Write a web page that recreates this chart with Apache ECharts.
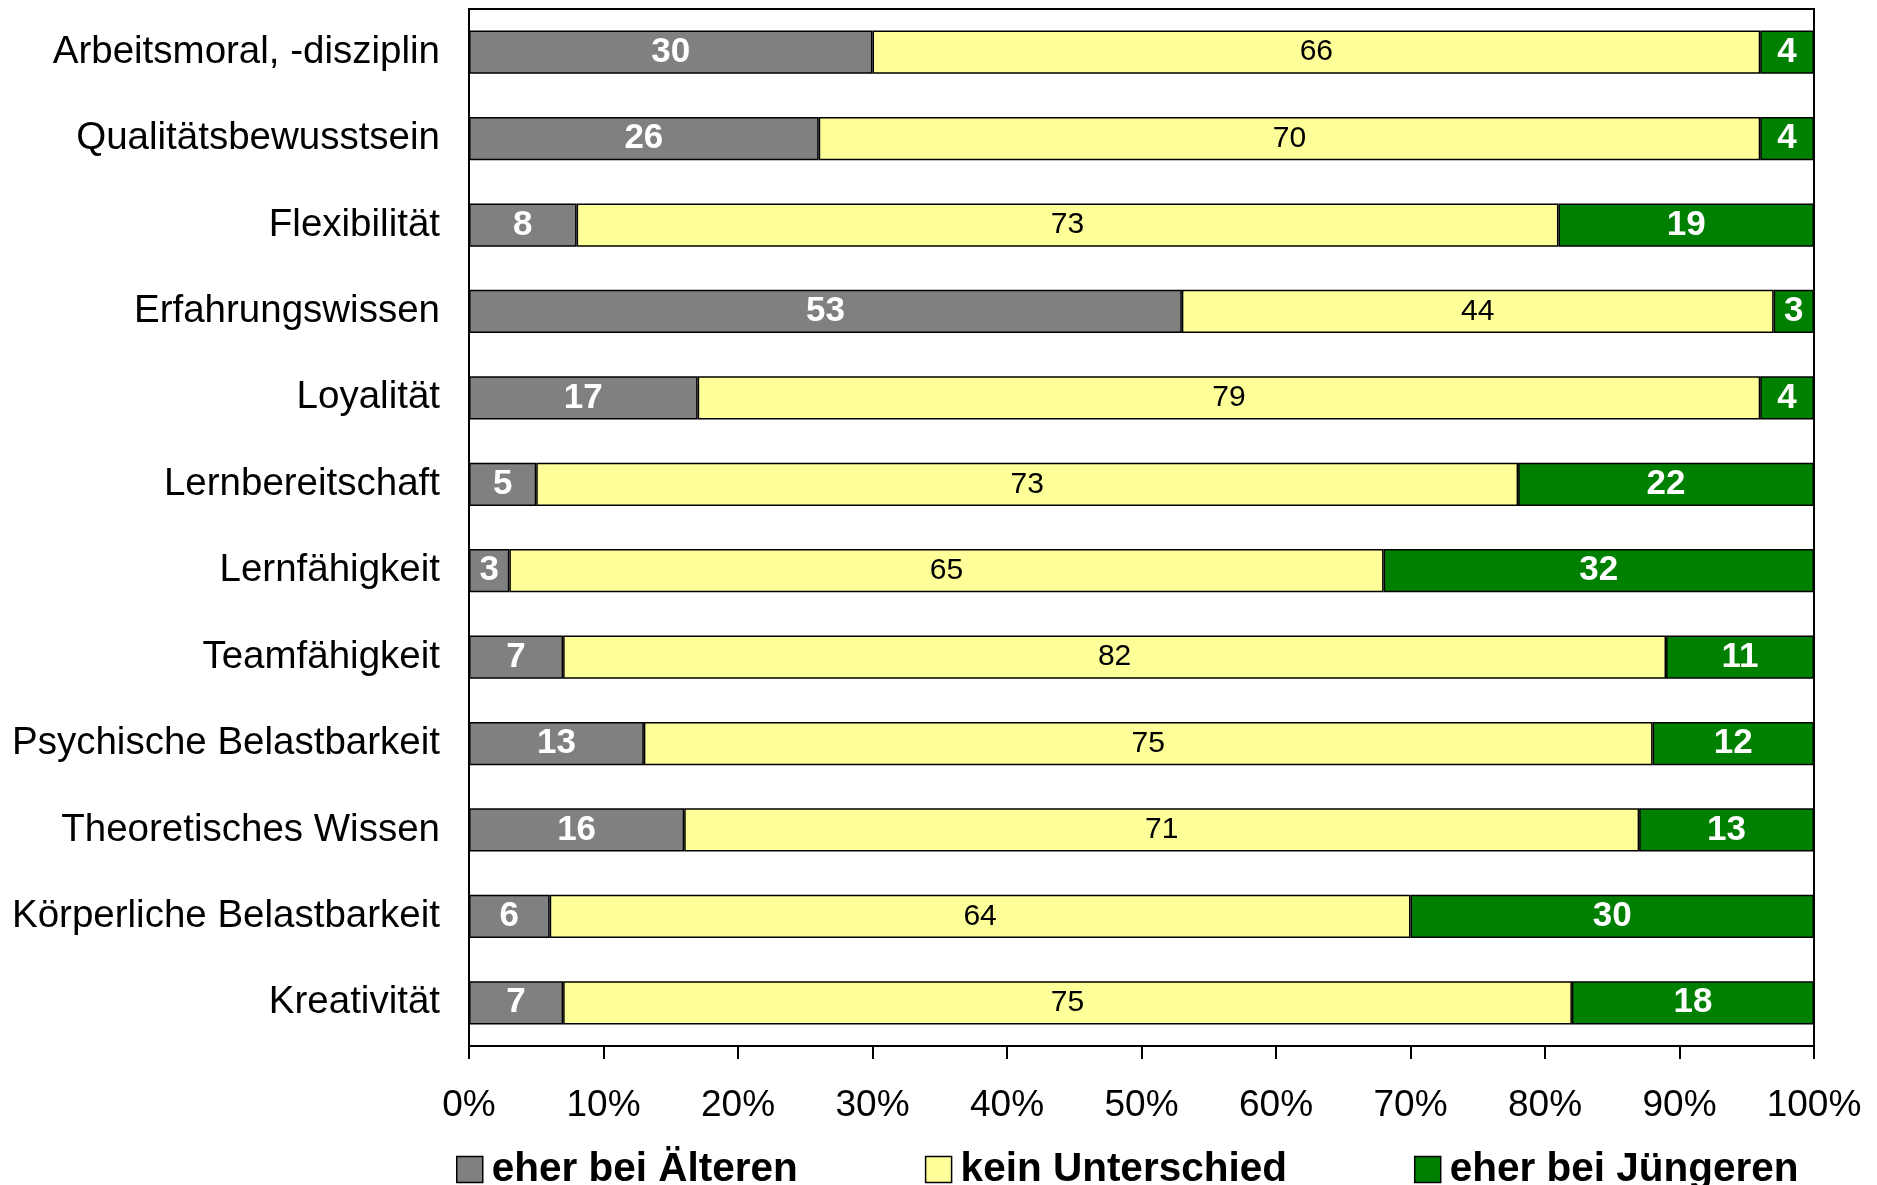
<!DOCTYPE html>
<html>
<head>
<meta charset="utf-8">
<script src="https://cdn.jsdelivr.net/npm/echarts@6/dist/echarts.min.js"></script>
<style>
html,body{margin:0;padding:0;background:#fff;}
#chart{width:1877px;height:1185px;}
</style>
</head>
<body>
<div id="chart"></div>
<script>
const categories = ['Arbeitsmoral, -disziplin','Qualitätsbewusstsein','Flexibilität','Erfahrungswissen','Loyalität','Lernbereitschaft','Lernfähigkeit','Teamfähigkeit','Psychische Belastbarkeit','Theoretisches Wissen','Körperliche Belastbarkeit','Kreativität'];
const seriesNames = ['eher bei Älteren','kein Unterschied','eher bei Jüngeren'];
const older   = [30,26,8,53,17,5,3,7,13,16,6,7];
const noDiff  = [66,70,73,44,79,73,65,82,75,71,64,75];
const younger = [4,4,19,3,4,22,32,11,12,13,30,18];
const xTicks = [0,10,20,30,40,50,60,70,80,90,100];

const FONT = "'Liberation Sans', Arial, sans-serif";
const chart = echarts.init(document.getElementById('chart'), null, {renderer:'canvas'});

function mk(name, data, color, lblColor, bold, size){
  return {
    name: name, type: 'bar', stack: 'total', data: data, barWidth: '50%',
    itemStyle: {color: color, borderColor: '#000', borderWidth: 1.5},
    label: {show: true, position: 'inside', color: lblColor, fontFamily: FONT,
            fontWeight: bold ? 'bold' : 'normal', fontSize: size, formatter: '{c}', padding: [2,0,0,0]},
    emphasis: {disabled: true}
  };
}

chart.setOption({
  animation: false,
  backgroundColor: '#fff',
  grid: {left: 469, right: 63, top: 9, bottom: 139, show: true, borderColor: '#000', borderWidth: 2, backgroundColor: 'transparent'},
  xAxis: {
    type: 'value', min: xTicks[0], max: xTicks[xTicks.length-1], interval: 10,
    axisLine: {show: true, lineStyle: {color: '#000', width: 2}},
    axisTick: {show: true, length: 13, lineStyle: {color: '#000', width: 2}},
    splitLine: {show: false},
    axisLabel: {formatter: '{value}%', color: '#000', fontFamily: FONT, fontSize: 37, margin: 41}
  },
  yAxis: {
    type: 'category', data: categories, inverse: true,
    axisLine: {show: true, lineStyle: {color: '#000', width: 2}},
    axisTick: {show: false},
    axisLabel: {color: '#000', fontFamily: FONT, fontSize: 38.5, margin: 29, padding: [11,0,0,0]}
  },
  legend: {
    data: seriesNames, left: 456, top: 1149, padding: 0, itemGap: 127,
    itemWidth: 26, itemHeight: 26, icon: 'rect',
    itemStyle: {borderColor: '#000', borderWidth: 1.5},
    textStyle: {color: '#000', fontFamily: FONT, fontSize: 40.5, fontWeight: 'bold', padding: [0,0,0,4]}
  },
  series: [
    mk(seriesNames[0], older, '#808080', '#fff', true, 35),
    mk(seriesNames[1], noDiff, '#FFFF99', '#000', false, 30),
    mk(seriesNames[2], younger, '#008000', '#fff', true, 35)
  ]
});
</script>
</body>
</html>
